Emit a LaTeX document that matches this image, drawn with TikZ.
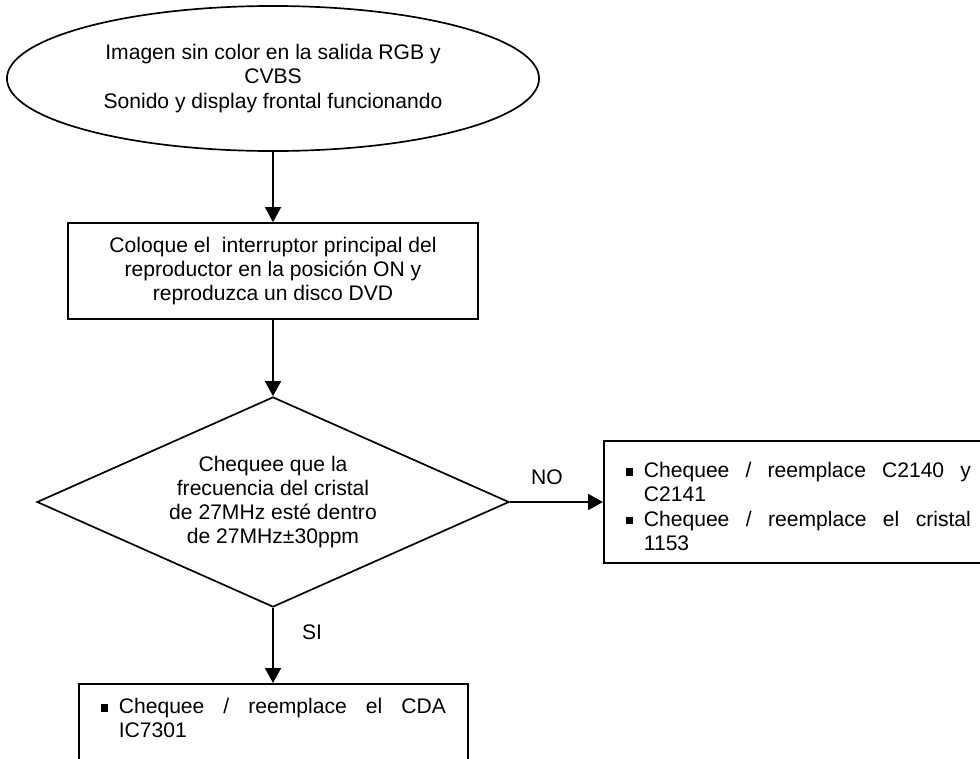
\documentclass[tikz,border=0pt]{standalone}
\usepackage{fontspec}
\setmainfont{Liberation Sans}
\usetikzlibrary{shapes.geometric}
\usetikzlibrary{arrows.meta}

\tikzset{
    texto/.style={font=\fontsize{15pt}{17.25pt}\selectfont},
    linea/.style={draw, line width=1.2pt},
    caja/.style={texto, linea, rectangle, inner sep=0pt, align=center},
    lista/.style={texto, linea, rectangle, inner xsep=0.55cm, inner ysep=0.14cm,
                  text width=8.625cm, align=justify},
    flecha/.style={line width=1.2pt, -{Triangle[length=0.375cm,width=0.4cm]}}
}
\newcommand{\cuadrito}{\rule[0.1em]{0.34em}{0.34em}}
\newcommand{\punto}[1]{\par\noindent\spaceskip=\fontdimen2\font plus 0.8em minus 0pt\relax
    \hangindent=0.45cm\hangafter=1%
    \makebox[0.45cm][l]{\cuadrito}#1\par}
\tolerance=9999 \hbadness=10000

\begin{document}
\begin{tikzpicture}[x=0.025cm, y=-0.025cm]

            %\draw [help lines] (0,0) grid (980,758);
            \useasboundingbox (0,0) rectangle (980,758);

            \path   (273,78.5) node (a) [texto, linea, ellipse, inner sep=0pt, align=center,
                        minimum width=13.3cm, minimum height=3.625cm]
                        {Imagen sin color en la salida RGB y\\ CVBS\\ Sonido y display frontal funcionando}
                    (273,271) node (b) [caja, minimum width=10.25cm, minimum height=2.4cm]
                        {Coloque el~ interruptor principal del\\ reproductor en la posición ON y\\ reproduzca un disco DVD}
                    (273,502) node (c) [texto, linea, diamond, aspect=2.25, inner sep=0pt, align=center,
                        minimum width=11.8cm, minimum height=5.25cm]
                        {Chequee que la\\ frecuencia del cristal\\ de 27MHz esté dentro\\ de 27MHz±30ppm}
                    (603,502) node (d) [lista, anchor=west, minimum height=3.05cm]
                        {\punto{Chequee / reemplace C2140 y C2141}
                         \punto{Chequee / reemplace el cristal 1153}}
                    (78,683) node (e) [lista, anchor=north west, text depth=2.5cm]
                        {\punto{Chequee / reemplace el CDA IC7301}}
                    (547,477) node (no) [texto] {NO}
                    (312,632) node (si) [texto] {SI};

            % flechas
            \draw [flecha] (a.south) -- (b.north);
            \draw [flecha] (b.south) -- (c.north);
            \draw [flecha] (c.east) -- (d.west);
            \draw [flecha] (c.south) -- (c.south |- e.north);

\end{tikzpicture}
\end{document}
